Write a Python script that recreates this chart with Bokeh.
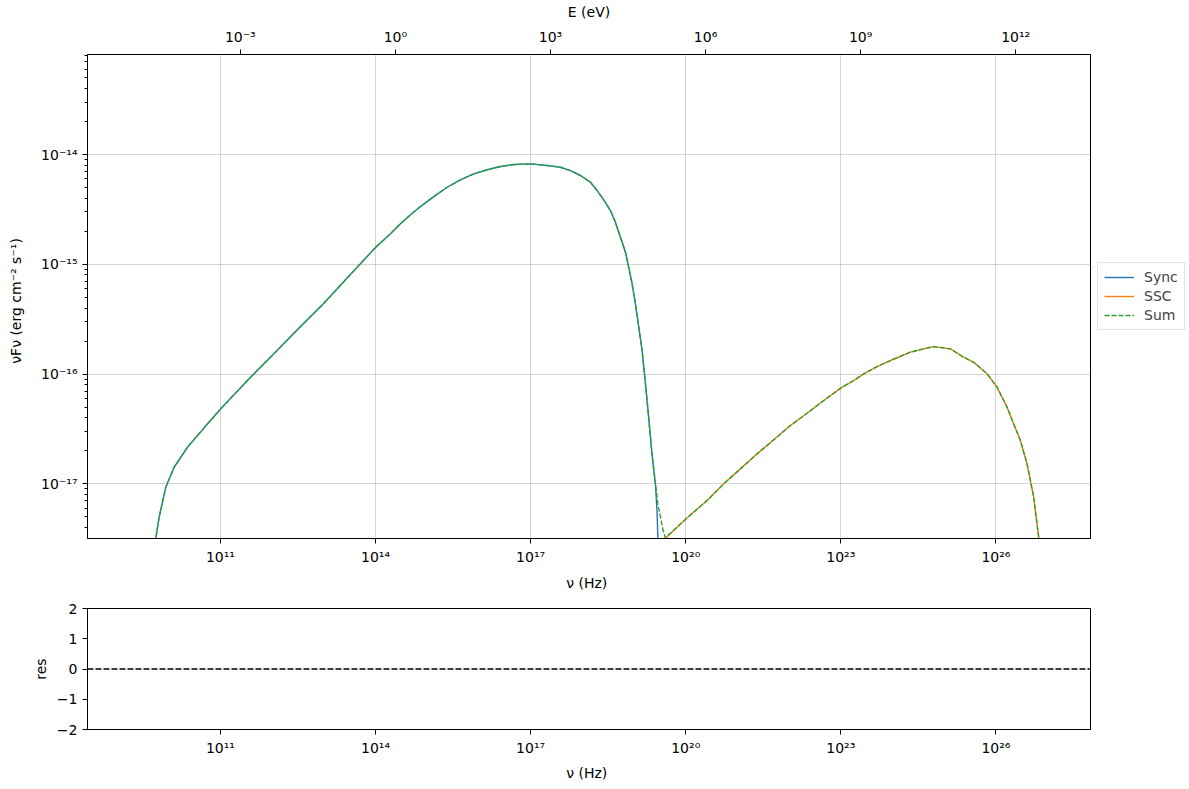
import numpy as np
from bokeh.plotting import figure
from bokeh.models import (LogAxis, FixedTicker, CustomJSTickFormatter, Legend, LegendItem,
                          Span, Range1d)
from bokeh.layouts import column
from bokeh.embed import file_html
from bokeh.resources import INLINE

# ---------------- data (log10 values) ----------------
sync_log_nu = [9.72, 9.749, 9.814, 9.942, 10.104, 10.362, 10.7, 11.006, 11.522, 12.0, 12.5,
               13.0, 13.5, 14.004, 14.288, 14.482, 14.675, 14.868, 15.126, 15.385, 15.642,
               15.900, 16.158, 16.416, 16.674, 17.010, 17.319, 17.576, 17.770, 17.963, 18.157,
               18.286, 18.414, 18.544, 18.640, 18.737, 18.834, 18.897, 18.963, 19.027, 19.092,
               19.156, 19.22, 19.284, 19.35, 19.414, 19.445, 19.462, 19.48]
sync_log_flux = [-17.8, -17.497, -17.303, -17.030, -16.848, -16.666, -16.48, -16.316, -16.058, -15.83, -15.59,
                 -15.355, -15.10, -14.844, -14.722, -14.631, -14.549, -14.474, -14.383, -14.298, -14.230,
                 -14.176, -14.139, -14.109, -14.091, -14.085, -14.100, -14.116, -14.146, -14.191, -14.252,
                 -14.328, -14.413, -14.510, -14.617, -14.753, -14.890, -15.026, -15.178, -15.360, -15.573,
                 -15.785, -16.08, -16.40, -16.74, -17.0, -17.25, -17.5, -17.9]

ssc_log_nu = [19.56, 19.607, 20.007, 20.091, 20.414, 20.735, 21.058, 21.381, 21.703, 22.025,
              22.348, 22.670, 23.006, 23.250, 23.443, 23.702, 23.959, 24.346, 24.604, 24.797,
              25.120, 25.377, 25.571, 25.830, 26.023, 26.216, 26.344, 26.474, 26.603, 26.731,
              26.828, 26.86]
ssc_log_flux = [-17.65, -17.497, -17.318, -17.282, -17.151, -16.999, -16.863, -16.726, -16.598, -16.468,
                -16.356, -16.240, -16.125, -16.058, -15.997, -15.931, -15.876, -15.800, -15.770, -15.749,
                -15.770, -15.846, -15.892, -15.997, -16.119, -16.301, -16.453, -16.605, -16.817, -17.121,
                -17.485, -17.7]

# Sum: follows Sync down to ~1e-17, then this short dip, then follows SSC
sum_dip_log_nu = [19.46, 19.51, 19.56, 19.607]
sum_dip_log_flux = [-17.18, -17.30, -17.42, -17.49]
SYNC_PART_END = 45     # sync points used by the sum (up to nu = 10^19.414)
SSC_PART_START = 2     # ssc points used by the sum (from nu = 10^20.007)

nu_tick_exponents = [11, 14, 17, 20, 23, 26]
flux_tick_exponents = [-17, -16, -15, -14]
energy_tick_exponents = [-3, 0, 3, 6, 9, 12]
res_ticks = [-2, -1, 0, 1, 2]

X_LIMITS_LOG = (8.428, 27.83)
Y_LIMITS_LOG = (-17.497, -13.089)
H_EV = 4.135667696e-15  # Planck constant in eV s

FONT = "DejaVu Sans"
FS = "14px"

def pw(a):
    return np.power(10.0, np.asarray(a, dtype=float))

sum_log_nu = sync_log_nu[:SYNC_PART_END] + sum_dip_log_nu + ssc_log_nu[SSC_PART_START:]
sum_log_flux = sync_log_flux[:SYNC_PART_END] + sum_dip_log_flux + ssc_log_flux[SSC_PART_START:]

SUP_JS = """
const m = {'-':'\u207b','0':'\u2070','1':'\u00b9','2':'\u00b2','3':'\u00b3','4':'\u2074','5':'\u2075','6':'\u2076','7':'\u2077','8':'\u2078','9':'\u2079'};
function sup(n){ return String(n).split('').map(c => m[c]).join(''); }
"""

nu_fmt = CustomJSTickFormatter(code=SUP_JS + "return '10' + sup(Math.round(Math.log10(tick)));")
e_fmt = CustomJSTickFormatter(code=SUP_JS + "return '10' + sup(Math.round(Math.log10(tick * %r)));" % H_EV)
res_fmt = CustomJSTickFormatter(code="return tick < 0 ? '\u2212' + Math.abs(tick) : String(tick);")

def style_axis(ax):
    ax.major_label_text_font = FONT
    ax.major_label_text_font_size = FS
    ax.major_label_text_color = "black"
    ax.axis_label_text_font = FONT
    ax.axis_label_text_font_size = FS
    ax.axis_label_text_font_style = "normal"
    ax.axis_label_text_color = "black"
    ax.axis_line_color = "black"
    ax.major_tick_line_color = "black"
    ax.minor_tick_line_color = "black"
    ax.major_tick_in = 0
    ax.major_tick_out = 5
    ax.minor_tick_in = 0
    ax.minor_tick_out = 3

x_lo, x_hi = pw(X_LIMITS_LOG[0]), pw(X_LIMITS_LOG[1])

# ---------------- main figure ----------------
p = figure(frame_width=1003, frame_height=484, x_axis_type="log", y_axis_type="log",
           x_range=Range1d(x_lo, x_hi), y_range=Range1d(pw(Y_LIMITS_LOG[0]), pw(Y_LIMITS_LOG[1])),
           output_backend="svg", toolbar_location=None,
           min_border_left=87, min_border_right=5, min_border_top=48, min_border_bottom=57)
p.outline_line_color = "black"
p.outline_line_alpha = 1.0
p.background_fill_color = "white"

p.xaxis.ticker = FixedTicker(ticks=list(pw(nu_tick_exponents)), minor_ticks=[])
p.xaxis.formatter = nu_fmt
p.xaxis.axis_label = "\u03bd  (Hz)"

minor_y = [k * 10.0 ** n for n in range(-18, -12) for k in range(2, 10)]
p.yaxis.ticker = FixedTicker(ticks=list(pw(flux_tick_exponents)), minor_ticks=minor_y)
p.yaxis.axis_label = "\u03bdF\u03bd  (erg cm\u207b\u00b2  s\u207b\u00b9)"
p.yaxis.formatter = nu_fmt

top = LogAxis(axis_label="E (eV)",
              ticker=FixedTicker(ticks=list(pw(energy_tick_exponents) / H_EV), minor_ticks=[]),
              formatter=e_fmt)
p.add_layout(top, "above")

for ax in list(p.xaxis) + list(p.yaxis) + [top]:
    style_axis(ax)
p.xaxis.axis_label_standoff = 7
p.yaxis.axis_label_standoff = 14
top.axis_label_standoff = 6

p.xgrid.grid_line_color = "#b0b0b0"
p.xgrid.grid_line_alpha = 0.55
p.ygrid.grid_line_color = "#b0b0b0"
p.ygrid.grid_line_alpha = 0.55

r_sync = p.line(pw(sync_log_nu), pw(sync_log_flux), line_color="#1f77b4", line_width=1.4)
r_ssc = p.line(pw(ssc_log_nu), pw(ssc_log_flux), line_color="#ff7f0e", line_width=1.4)
r_sum = p.line(pw(sum_log_nu), pw(sum_log_flux), line_color="#2ca02c", line_width=1.4, line_dash="5 2")

legend = Legend(items=[LegendItem(label="Sync", renderers=[r_sync]),
                       LegendItem(label="SSC", renderers=[r_ssc]),
                       LegendItem(label="Sum", renderers=[r_sum])],
                location="center_left")
legend.label_text_font = FONT
legend.label_text_font_size = FS
legend.border_line_color = "#cccccc"
legend.glyph_width = 30
legend.glyph_height = 14
legend.label_standoff = 10
legend.spacing = 3
legend.padding = 6
legend.margin = 7
p.add_layout(legend, "right")

# ---------------- residual figure ----------------
p2 = figure(frame_width=1003, frame_height=121, x_axis_type="log",
            x_range=p.x_range, y_range=Range1d(-2, 2),
            output_backend="svg", toolbar_location=None,
            min_border_left=87, min_border_right=5, min_border_top=13, min_border_bottom=52)
p2.outline_line_color = "black"
p2.outline_line_alpha = 1.0
p2.xgrid.visible = False
p2.ygrid.visible = False
p2.xaxis.ticker = FixedTicker(ticks=list(pw(nu_tick_exponents)), minor_ticks=[])
p2.xaxis.formatter = nu_fmt
p2.xaxis.axis_label = "\u03bd  (Hz)"
p2.yaxis.ticker = FixedTicker(ticks=res_ticks, minor_ticks=[])
p2.yaxis.formatter = res_fmt
p2.yaxis.axis_label = "res"
for ax in list(p2.xaxis) + list(p2.yaxis):
    style_axis(ax)
p2.xaxis.axis_label_standoff = 6

p2.add_layout(Span(location=0, dimension="width", line_color="black", line_width=1.6, line_dash="6 2"))

layout = column(p, p2)
open("out.html", "w").write(file_html(layout, INLINE))
